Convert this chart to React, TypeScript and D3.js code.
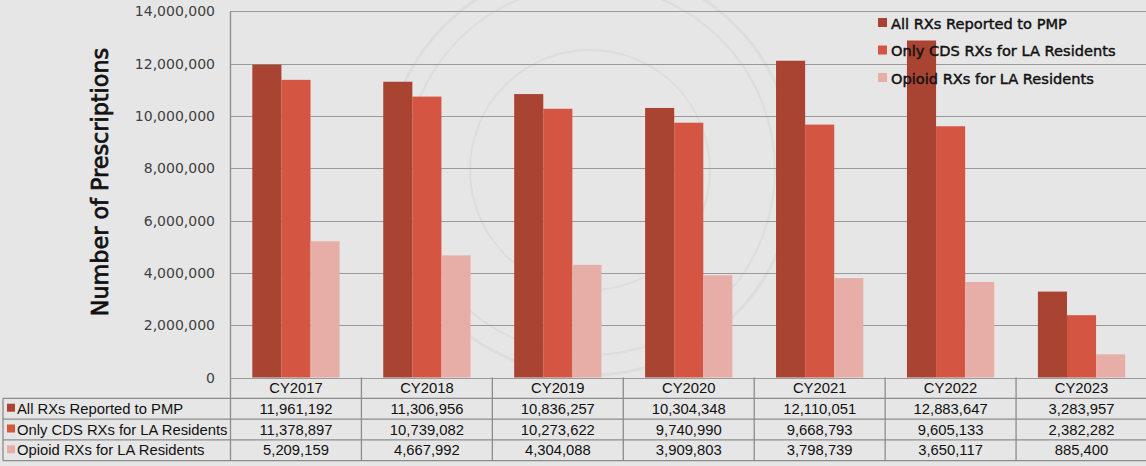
import React, { useEffect, useRef } from 'react';
import * as d3 from 'd3';

const years = ['CY2017', 'CY2018', 'CY2019', 'CY2020', 'CY2021', 'CY2022', 'CY2023'];
const seriesNames = ['All RXs Reported to PMP', 'Only CDS RXs for LA Residents', 'Opioid RXs for LA Residents'];
const allRx = [11961192, 11306956, 10836257, 10304348, 12110051, 12883647, 3283957];
const cdsRx = [11378897, 10739082, 10273622, 9740990, 9668793, 9605133, 2382282];
const opioidRx = [5209159, 4667992, 4304088, 3909803, 3798739, 3650117, 885400];
const yTicks = [0, 2000000, 4000000, 6000000, 8000000, 10000000, 12000000, 14000000];
const colors = ['#a94433', '#d45541', '#e7aea8'];

const App = () => {
  const svgRef = useRef<SVGSVGElement>(null);
  const width = 1146;
  const height = 466;

  useEffect(() => {
    if (!svgRef.current) return;
    const svg = d3.select(svgRef.current);
    svg.selectAll('*').remove();

    const series = [allRx, cdsRx, opioidRx];
    const left = 230.5;
    const right = width + 1;
    const top = 11.3;
    const base = 377.5;
    const rowH = 20.8;

    // background + faint seal
    svg.append('rect').attr('width', width).attr('height', height).attr('fill', '#e6e6e6');
    const seal = svg.append('g').attr('transform', 'translate(590,170)').attr('fill', 'none');
    [205, 185, 120].forEach((r, i) => {
      seal.append('circle').attr('r', r).attr('stroke', '#dddddd').attr('stroke-width', i === 0 ? 3 : 2);
    });

    const x = d3.scaleBand().domain(years).range([left, right]);
    const xInner = d3.scaleBand()
      .domain(seriesNames)
      .range([0, x.bandwidth()])
      .paddingOuter(0.75)
      .paddingInner(0);
    const y = d3.scaleLinear().domain([0, 14000000]).range([base, top]);

    // gridlines
    svg.append('g')
      .selectAll('line')
      .data(yTicks)
      .join('line')
      .attr('x1', left)
      .attr('x2', width)
      .attr('y1', d => Math.round(y(d)) + 0.5)
      .attr('y2', d => Math.round(y(d)) + 0.5)
      .attr('stroke', '#9a9a9a')
      .attr('stroke-width', 1.2);

    // tick labels
    svg.append('g')
      .selectAll('text')
      .data(yTicks)
      .join('text')
      .attr('x', 215)
      .attr('y', d => y(d) + 5)
      .attr('text-anchor', 'end')
      .attr('font-family', 'DejaVu Sans')
      .attr('font-size', '14px')
      .attr('fill', '#404040')
      .text(d => d3.format(',')(d));

    // bars
    series.forEach((vals, si) => {
      svg.append('g')
        .selectAll('rect')
        .data(vals)
        .join('rect')
        .attr('x', (_, i) => (x(years[i]) as number) + (xInner(seriesNames[si]) as number))
        .attr('y', d => y(d))
        .attr('width', xInner.bandwidth())
        .attr('height', d => base - y(d))
        .attr('fill', colors[si]);
    });

    // y axis title
    svg.append('text')
      .attr('transform', `translate(108, 182) rotate(-90)`)
      .attr('text-anchor', 'middle')
      .attr('font-family', 'DejaVu Sans')
      .attr('font-size', '22.3px')
      .attr('fill', '#111')
      .attr('stroke', '#111')
      .attr('stroke-width', 0.7)
      .text('Number of Prescriptions');

    // legend
    const legend = svg.append('g').attr('transform', 'translate(878, 24)');
    seriesNames.forEach((name, i) => {
      const row = legend.append('g').attr('transform', `translate(0, ${i * 27.5})`);
      row.append('rect').attr('x', 0).attr('y', -6).attr('width', 9).attr('height', 9).attr('fill', colors[i]);
      row.append('text')
        .attr('x', 13)
        .attr('y', 4.5)
        .attr('font-family', 'DejaVu Sans')
        .attr('font-size', '14.6px')
        .attr('fill', '#111')
        .attr('stroke', '#111')
        .attr('stroke-width', 0.45)
        .text(name);
    });

    // data table
    const tbl = svg.append('g').attr('stroke', '#8c8c8c').attr('stroke-width', 1.3);
    const tableBottom = base + rowH * 4;
    for (let r = 1; r <= 4; r++) {
      tbl.append('line')
        .attr('x1', 3)
        .attr('x2', width)
        .attr('y1', base + rowH * r)
        .attr('y2', base + rowH * r);
    }
    tbl.append('line').attr('x1', 3).attr('x2', 3).attr('y1', base + rowH).attr('y2', tableBottom);
    tbl.append('line').attr('x1', left).attr('x2', left).attr('y1', top).attr('y2', tableBottom);
    years.slice(1).forEach(yr => {
      tbl.append('line')
        .attr('x1', x(yr) as number)
        .attr('x2', x(yr) as number)
        .attr('y1', base)
        .attr('y2', tableBottom);
    });

    const cellFont = 'Liberation Sans, Arial, sans-serif';
    const cellSize = '14.8px';
    svg.append('g')
      .selectAll('text')
      .data(years)
      .join('text')
      .attr('x', d => (x(d) as number) + x.bandwidth() / 2)
      .attr('y', base + rowH / 2 + 5)
      .attr('text-anchor', 'middle')
      .attr('font-family', cellFont)
      .attr('font-size', cellSize)
      .attr('fill', '#111')
      .text(d => d);

    series.forEach((vals, si) => {
      const ry = base + rowH * (si + 1) + rowH / 2 + 5;
      svg.append('rect')
        .attr('x', 7)
        .attr('y', ry - 10)
        .attr('width', 8)
        .attr('height', 8)
        .attr('fill', colors[si]);
      svg.append('text')
        .attr('x', 17)
        .attr('y', ry)
        .attr('font-family', cellFont)
        .attr('font-size', cellSize)
        .attr('fill', '#111')
        .text(seriesNames[si]);
      svg.append('g')
        .selectAll('text')
        .data(vals)
        .join('text')
        .attr('x', (_, i) => (x(years[i]) as number) + x.bandwidth() / 2)
        .attr('y', ry)
        .attr('text-anchor', 'middle')
        .attr('font-family', cellFont)
        .attr('font-size', cellSize)
        .attr('fill', '#111')
        .text(d => d3.format(',')(d));
    });
  }, []);

  return (
    <svg
      ref={svgRef}
      width={width}
      height={height}
      style={{ position: 'absolute', left: 0, top: 0, display: 'block' }}
    ></svg>
  );
};

export default App;
